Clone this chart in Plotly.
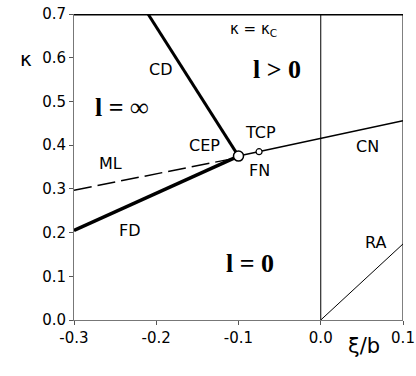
import plotly.graph_objects as go

# Phase boundary data (xi/b, kappa)
kc_x = [-0.3, 0.1]
kc_y = [0.7, 0.7]
cd_x = [-0.21, -0.1]
cd_y = [0.7, 0.375]
fd_x = [-0.3, -0.1]
fd_y = [0.205, 0.375]
ml_x = [-0.3, -0.11]
ml_y = [0.297, 0.368]
cn_x = [-0.1, 0.1]
cn_y = [0.375, 0.456]
zero_x = [0.0, 0.0]
zero_y = [0.0, 0.7]
ra_x = [0.0, 0.1]
ra_y = [0.0, 0.174]
cep_pt = (-0.1, 0.375)
tcp_pt = (-0.075, 0.385)

x_ticks = [-0.3, -0.2, -0.1, 0.0, 0.1]
x_ticklabels = ["-0.3", "-0.2", "-0.1", "0.0", "0.1"]
y_ticks = [0.0, 0.1, 0.2, 0.3, 0.4, 0.5, 0.6, 0.7]
y_ticklabels = ["0.0", "0.1", "0.2", "0.3", "0.4", "0.5", "0.6", "0.7"]

fig = go.Figure()

def line(x, y, w, dash="solid"):
    fig.add_trace(go.Scatter(x=x, y=y, mode="lines",
                             line=dict(color="black", width=w, dash=dash),
                             hoverinfo="skip", showlegend=False))

line(kc_x, kc_y, 3)
line(cd_x, cd_y, 3)
line(fd_x, fd_y, 3.5)
line(ml_x, ml_y, 1.5, dash="18px,6px")
line(cn_x, cn_y, 1.5)
line(zero_x, zero_y, 1)
line([0.1, 0.1], [0.0, 0.7], 1)
line(ra_x, ra_y, 1)

fig.add_trace(go.Scatter(x=[cep_pt[0]], y=[cep_pt[1]], mode="markers",
                         marker=dict(size=10, color="white", line=dict(color="black", width=1.5)),
                         showlegend=False, hoverinfo="skip"))
fig.add_trace(go.Scatter(x=[tcp_pt[0]], y=[tcp_pt[1]], mode="markers",
                         marker=dict(size=6, color="white", line=dict(color="black", width=1.2)),
                         showlegend=False, hoverinfo="skip"))

sans = "DejaVu Sans, Arial, sans-serif"
serif = "Liberation Serif, Times New Roman, serif"

labels = [
    ("CD", -0.194, 0.574, 16, sans),
    ("CEP", -0.141, 0.400, 16, sans),
    ("ML", -0.256, 0.359, 16, sans),
    ("TCP", -0.073, 0.428, 16, sans),
    ("FN", -0.074, 0.341, 16, sans),
    ("CN", 0.057, 0.396, 16, sans),
    ("FD", -0.232, 0.204, 16, sans),
    ("RA", 0.066, 0.178, 16, sans),
    ("<b>l = ∞</b>", -0.242, 0.485, 26, serif),
    ("<b>l > 0</b>", -0.053, 0.572, 26, serif),
    ("<b>l = 0</b>", -0.086, 0.130, 26, serif),
    ("κ = κ<sub>C</sub>", -0.082, 0.665, 15, sans),
]
for t, x, y, s, f in labels:
    fig.add_annotation(x=x, y=y, text=t, showarrow=False,
                       font=dict(size=s, family=f, color="black"))

fig.add_annotation(xref="paper", yref="paper", x=-0.17, y=0.899, text="κ",
                   showarrow=False, font=dict(size=20, family=sans, color="black"))
fig.add_annotation(xref="paper", yref="paper", x=0.936, y=-0.13, text="ξ/b",
                   showarrow=False, font=dict(size=21, family=sans, color="black"))

fig.update_xaxes(range=[-0.3, 0.1], tickvals=x_ticks, ticktext=x_ticklabels,
                 showgrid=False, zeroline=False, showline=True, linecolor="#777",
                 linewidth=1, ticks="outside", ticklen=4, tickcolor="#555",
                 ticklabeloverflow="allow",
                 tickfont=dict(size=15, family=sans, color="black"))
fig.update_yaxes(range=[0.0, 0.7], tickvals=y_ticks, ticktext=y_ticklabels,
                 showgrid=False, zeroline=False, showline=True, linecolor="#777",
                 linewidth=1, ticks="outside", ticklen=4, tickcolor="#555",
                 ticklabeloverflow="allow",
                 tickfont=dict(size=15, family=sans, color="black"))

fig.update_layout(width=416, height=376,
                  margin=dict(l=74, r=13, t=14, b=56, autoexpand=False),
                  plot_bgcolor="white", paper_bgcolor="white", showlegend=False)

fig.write_html("out.html", config={"displayModeBar": False},
               post_script="document.body.style.margin='0px';document.body.style.overflow='hidden';")
